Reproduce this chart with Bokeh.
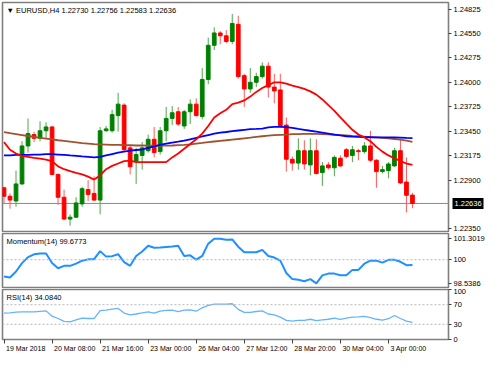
from bokeh.plotting import figure
from bokeh.layouts import column
from bokeh.models import (Range1d, FixedTicker, PrintfTickFormatter, Span, Label, ColumnDataSource,
                          LinearAxis)
from bokeh.embed import file_html
from bokeh.resources import INLINE

# ---------------- data ----------------
chart_title = "\u25bc EURUSD,H4  1.22730 1.22756 1.22583 1.22636"
momentum_title = "Momentum(14) 99.6773"
rsi_title = "RSI(14) 34.0840"

opens = [1.22813, 1.22717, 1.22664, 1.22856, 1.23284, 1.23412, 1.23370, 1.23455, 1.23498, 1.22963,
         1.22706, 1.22460, 1.22481, 1.22631, 1.22792, 1.22749, 1.22674, 1.23455, 1.23455, 1.23626,
         1.23744, 1.23262, 1.23113, 1.23177, 1.23230, 1.23359, 1.23220, 1.23455, 1.23594, 1.23669,
         1.23509, 1.23669, 1.23755, 1.23616, 1.24033, 1.24418, 1.24557, 1.24525, 1.24461, 1.24654,
         1.24076, 1.23926, 1.24001, 1.24065, 1.24183, 1.23947, 1.23915, 1.23519, 1.23134, 1.23091,
         1.23230, 1.23070, 1.23230, 1.22984, 1.23070, 1.23038, 1.23145, 1.23241, 1.23177, 1.23230,
         1.23220, 1.23284, 1.23123, 1.22995, 1.23006, 1.23059, 1.23230, 1.22877, 1.22730]
highs = [1.22824, 1.22749, 1.23006, 1.23337, 1.23594, 1.23445, 1.23562, 1.23551, 1.23509, 1.22974,
         1.22792, 1.22514, 1.22706, 1.22824, 1.22899, 1.22942, 1.23498, 1.23509, 1.23691, 1.23883,
         1.23765, 1.23295, 1.23262, 1.23327, 1.23412, 1.23498, 1.23498, 1.23723, 1.23733, 1.23723,
         1.23691, 1.23808, 1.23819, 1.24161, 1.24504, 1.24621, 1.24579, 1.24589, 1.24771, 1.24750,
         1.24097, 1.24161, 1.24108, 1.24226, 1.24226, 1.24097, 1.24097, 1.23605, 1.23166, 1.23370,
         1.23348, 1.23370, 1.23359, 1.23102, 1.23102, 1.23177, 1.23177, 1.23262, 1.23284, 1.23252,
         1.23327, 1.23455, 1.23134, 1.23059, 1.23102, 1.23262, 1.23359, 1.23155, 1.22756]
lows = [1.22642, 1.22578, 1.22599, 1.22845, 1.23209, 1.23327, 1.23337, 1.23370, 1.22952, 1.22621,
        1.22449, 1.22385, 1.22471, 1.22599, 1.22664, 1.22664, 1.22514, 1.23445, 1.23434, 1.23445,
        1.23230, 1.22963, 1.22856, 1.23017, 1.23209, 1.23155, 1.23187, 1.23337, 1.23519, 1.23509,
        1.23476, 1.23530, 1.23616, 1.23583, 1.23979, 1.24365, 1.24429, 1.24440, 1.24429, 1.24044,
        1.23723, 1.23883, 1.23947, 1.24044, 1.23830, 1.23765, 1.23498, 1.22995, 1.23006, 1.23017,
        1.23017, 1.22952, 1.22963, 1.22834, 1.23017, 1.22942, 1.23049, 1.23145, 1.23102, 1.23123,
        1.23198, 1.23102, 1.22813, 1.22974, 1.22920, 1.23049, 1.22856, 1.22535, 1.22583]
closes = [1.22717, 1.22674, 1.22856, 1.23284, 1.23423, 1.23370, 1.23455, 1.23498, 1.22963, 1.22706,
          1.22460, 1.22481, 1.22642, 1.22802, 1.22738, 1.22674, 1.23455, 1.23476, 1.23637, 1.23755,
          1.23241, 1.23049, 1.23187, 1.23262, 1.23359, 1.23209, 1.23455, 1.23594, 1.23658, 1.23530,
          1.23669, 1.23755, 1.23626, 1.24033, 1.24418, 1.24557, 1.24525, 1.24461, 1.24664, 1.24065,
          1.23926, 1.24001, 1.24065, 1.24183, 1.23947, 1.23904, 1.23509, 1.23134, 1.23091, 1.23230,
          1.23081, 1.23230, 1.22974, 1.23059, 1.23038, 1.23155, 1.23059, 1.23166, 1.23241, 1.23220,
          1.23284, 1.23123, 1.22995, 1.23017, 1.23081, 1.23230, 1.22867, 1.22728, 1.22636]

ma_red = [1.23327, 1.23241, 1.23198, 1.23172, 1.23161, 1.23150, 1.23140, 1.23129, 1.23113, 1.23054,
          1.23022, 1.23000, 1.22981, 1.22963, 1.22938, 1.22905, 1.22952, 1.23022, 1.23059, 1.23086,
          1.23113, 1.23118, 1.23102, 1.23102, 1.23102, 1.23102, 1.23102, 1.23102, 1.23155, 1.23198,
          1.23252, 1.23305, 1.23359, 1.23423, 1.23509, 1.23605, 1.23653, 1.23691, 1.23755, 1.23771,
          1.23797, 1.23840, 1.23893, 1.23937, 1.23969, 1.24001, 1.24001, 1.23985, 1.23964, 1.23947,
          1.23926, 1.23899, 1.23862, 1.23808, 1.23744, 1.23680, 1.23605, 1.23535, 1.23466, 1.23412,
          1.23380, 1.23337, 1.23273, 1.23220, 1.23177, 1.23145, 1.23113, 1.23086, 1.23070]
ma_blue = [1.23177, 1.23177, 1.23183, 1.23183, 1.23183, 1.23187, 1.23187, 1.23191, 1.23191, 1.23187,
           1.23183, 1.23177, 1.23172, 1.23166, 1.23161, 1.23155, 1.23161, 1.23177, 1.23193, 1.23209,
           1.23220, 1.23230, 1.23238, 1.23244, 1.23262, 1.23279, 1.23295, 1.23311, 1.23322, 1.23332,
           1.23343, 1.23359, 1.23375, 1.23391, 1.23407, 1.23423, 1.23434, 1.23441, 1.23450, 1.23458,
           1.23466, 1.23473, 1.23476, 1.23480, 1.23493, 1.23498, 1.23498, 1.23495, 1.23487, 1.23476,
           1.23466, 1.23455, 1.23445, 1.23434, 1.23423, 1.23412, 1.23402, 1.23393, 1.23388, 1.23385,
           1.23383, 1.23382, 1.23380, 1.23380, 1.23380, 1.23380, 1.23378, 1.23375, 1.23373]
ma_brown = [1.23439, 1.23428, 1.23418, 1.23407, 1.23396, 1.23386, 1.23375, 1.23367, 1.23359, 1.23348,
            1.23340, 1.23332, 1.23324, 1.23316, 1.23311, 1.23305, 1.23302, 1.23299, 1.23295, 1.23295,
            1.23293, 1.23292, 1.23289, 1.23289, 1.23287, 1.23287, 1.23287, 1.23287, 1.23289, 1.23292,
            1.23295, 1.23302, 1.23311, 1.23318, 1.23327, 1.23334, 1.23341, 1.23348, 1.23356, 1.23362,
            1.23370, 1.23377, 1.23386, 1.23393, 1.23399, 1.23405, 1.23409, 1.23412, 1.23416, 1.23418,
            1.23420, 1.23421, 1.23421, 1.23418, 1.23414, 1.23410, 1.23406, 1.23402, 1.23397, 1.23393,
            1.23389, 1.23384, 1.23380, 1.23375, 1.23370, 1.23362, 1.23354, 1.23343, 1.23330]

momentum = [98.96, 98.90, 99.27, 99.79, 100.16, 100.33, 100.38, 100.38, 99.79, 99.47,
            99.62, 99.62, 99.76, 99.94, 100.02, 100.03, 100.53, 100.19, 100.22, 100.34,
            99.85, 99.62, 100.23, 100.51, 100.86, 100.74, 100.76, 100.79, 100.82, 100.86,
            100.23, 100.27, 100.00, 100.23, 100.99, 101.3019, 101.29, 101.24, 101.25, 100.80,
            100.46, 100.46, 100.46, 100.61, 100.23, 100.13, 99.94, 99.18, 98.80, 98.76,
            98.67, 98.80, 98.5386, 99.03, 99.14, 99.14, 99.04, 99.04, 99.37, 99.37,
            99.75, 99.94, 99.94, 99.82, 99.99, 100.00, 99.87, 99.66, 99.6773]
rsi = [52.9, 53.5, 55.0, 55.5, 55.5, 55.5, 56.5, 57.4, 46.6, 41.8,
       36.1, 35.1, 39.0, 42.8, 41.8, 41.8, 58.0, 59.0, 60.9, 62.4,
       52.9, 49.1, 51.0, 53.2, 55.5, 52.9, 57.0, 58.6, 59.0, 56.1,
       59.0, 59.3, 56.7, 63.7, 68.5, 71.3, 71.3, 71.3, 71.9, 60.5,
       54.2, 54.2, 56.1, 57.4, 51.0, 49.4, 44.7, 38.0, 36.5, 38.0,
       38.0, 40.3, 37.6, 39.0, 40.3, 42.8, 39.9, 42.8, 44.7, 45.2,
       46.0, 43.7, 40.3, 38.4, 41.4, 47.9, 41.8, 36.5, 34.084]

price_ticks = [1.22350, 1.22900, 1.23175, 1.23450, 1.23725, 1.24000, 1.24275, 1.24550, 1.24825]
momentum_ticks = [98.5386, 100.0, 101.3019]
momentum_tick_labels = ["98.5386", "100", "101.3019"]
rsi_ticks = [0, 30, 70, 100]
rsi_levels = [30, 70]
time_tick_bars = [0, 8, 16, 24, 32, 40, 48, 56, 64]
time_tick_labels = ["19 Mar 2018", "20 Mar 08:00", "21 Mar 16:00", "23 Mar 00:00", "26 Mar 04:00",
                    "27 Mar 12:00", "28 Mar 20:00", "30 Mar 04:00", "3 Apr 00:00"]

# ---------------- styling ----------------
FONT = "Liberation Sans"
FS = "7px"
FSY = "7.5px"
FRAME_W = 446
X0, X1 = -0.25, 74.0
BORDER = "#7f7f7f"
TICKC = "#404040"

bars = list(range(len(opens)))
xr = Range1d(X0, X1)

def base_fig(h, yr, top=1, bottom=1, xaxis=False):
    p = figure(frame_width=FRAME_W, frame_height=h, x_range=xr, y_range=yr,
               output_backend="svg", toolbar_location=None,
               x_axis_location="below" if xaxis else None, y_axis_location="right",
               min_border_left=2, min_border_right=0, min_border_top=top, min_border_bottom=bottom,
               background_fill_color="white", border_fill_color="white")
    p.outline_line_color = BORDER
    p.outline_line_width = 1.6
    p.grid.visible = False
    ya = p.yaxis[0]
    ya.axis_line_color = None
    ya.major_tick_out = 3
    ya.major_tick_in = 0
    ya.major_tick_line_color = TICKC
    ya.minor_tick_line_color = None
    ya.major_label_standoff = 2
    ya.major_label_text_font = FONT
    ya.major_label_text_font_size = FSY
    ya.major_label_text_color = "black"
    return p

# ---- main price panel ----
p1 = base_fig(229, Range1d(1.22320, 1.24900), top=2, bottom=1)
p1.yaxis[0].ticker = FixedTicker(ticks=price_ticks)
p1.yaxis[0].formatter = PrintfTickFormatter(format="%.5f")

up = [c >= o for o, c in zip(opens, closes)]
src = ColumnDataSource(dict(
    x=bars, high=highs, low=lows,
    top=[max(o, c) for o, c in zip(opens, closes)],
    bottom=[min(o, c) for o, c in zip(opens, closes)],
    body=["#008000" if u else "#ff0000" for u in up],
    wick=["#4fa64f" if u else "#ff5a5a" for u in up],
))
p1.add_layout(Span(location=closes[-1], dimension="width", line_color="#8a8a8a", line_width=1, level="underlay"))
p1.segment(x0="x", y0="low", x1="x", y1="high", line_color="wick", line_width=1, source=src)
p1.vbar(x="x", width=0.62, top="top", bottom="bottom", fill_color="body", line_color="body",
        line_width=1, source=src)
p1.line(bars, ma_brown, line_color="#a0522d", line_width=1.8)
p1.line(bars, ma_blue, line_color="#0000ff", line_width=1.8)
p1.line(bars, ma_red, line_color="#ff0000", line_width=1.8)

p1.add_layout(Label(x=X0, y=1.24900, x_offset=4, y_offset=-3, text=chart_title,
                    text_font=FONT, text_font_size="7.5px", text_baseline="top", text_color="black"))

# current-price tag on the price scale: a second right axis with one tick, whose thick
# inward tick forms the black box and whose label is pulled back over it
price_tag = LinearAxis(ticker=FixedTicker(ticks=[closes[-1]]),
                       formatter=PrintfTickFormatter(format="%.5f"))
price_tag.axis_line_color = None
price_tag.minor_tick_line_color = None
price_tag.major_tick_out = 0
price_tag.major_tick_in = 31
price_tag.major_tick_line_width = 11
price_tag.major_tick_line_color = "black"
price_tag.major_tick_line_cap = "butt"
price_tag.major_label_standoff = -29
price_tag.major_label_text_color = "white"
price_tag.major_label_text_font = FONT
price_tag.major_label_text_font_size = FSY
p1.add_layout(price_tag, "right")

# ---- momentum panel ----
p2 = base_fig(54, Range1d(98.28, 101.62))
p2.yaxis[0].ticker = FixedTicker(ticks=momentum_ticks)
p2.yaxis[0].major_label_overrides = {t: s for t, s in zip(momentum_ticks, momentum_tick_labels)}
p2.add_layout(Span(location=100.0, dimension="width", line_color="#b8b8b8", line_width=1, line_dash="2 2"))
p2.line(bars, momentum, line_color="#1e90ff", line_width=2)
p2.add_layout(Label(x=X0, y=101.62, x_offset=4, y_offset=-3, text=momentum_title,
                    text_font=FONT, text_font_size="7.5px", text_baseline="top", text_color="black"))

# ---- RSI panel ----
p3 = base_fig(50, Range1d(-1, 101), top=1, bottom=0, xaxis=True)
p3.yaxis[0].ticker = FixedTicker(ticks=rsi_ticks)
for lv in rsi_levels:
    p3.add_layout(Span(location=lv, dimension="width", line_color="#b8b8b8", line_width=1, line_dash="2 2"))
p3.line(bars, rsi, line_color="#63b3ff", line_width=1.3)
p3.add_layout(Label(x=X0, y=101, x_offset=4, y_offset=-3, text=rsi_title,
                    text_font=FONT, text_font_size="7.5px", text_baseline="top", text_color="black"))

# x axis: labels left-aligned to their tick marks (minor ticks mark the bar positions)
char_em = {d: 0.556 for d in "0123456789"}
char_em.update({" ": 0.278, ":": 0.278, "M": 0.833, "a": 0.556, "r": 0.333, "A": 0.667, "p": 0.556})
px_per_bar = FRAME_W / (X1 - X0)
fs_px = 7.0
centers = []
for b, s in zip(time_tick_bars, time_tick_labels):
    w = sum(char_em.get(ch, 0.556) for ch in s) * fs_px
    centers.append(round(b + (w / 2 + 2) / px_per_bar, 4))
xa = p3.xaxis[0]
xa.ticker = FixedTicker(ticks=centers, minor_ticks=time_tick_bars)
xa.major_label_overrides = {c: s for c, s in zip(centers, time_tick_labels)}
xa.axis_line_color = None
xa.major_tick_line_color = None
xa.major_tick_out = 3
xa.major_tick_in = 0
xa.minor_tick_line_color = TICKC
xa.minor_tick_out = 4
xa.minor_tick_in = 0
xa.major_label_standoff = 1
xa.major_label_text_font = FONT
xa.major_label_text_font_size = FS
xa.major_label_text_color = "black"

layout = column(p1, p2, p3, spacing=0)
open("out.html", "w").write(file_html(layout, INLINE))
